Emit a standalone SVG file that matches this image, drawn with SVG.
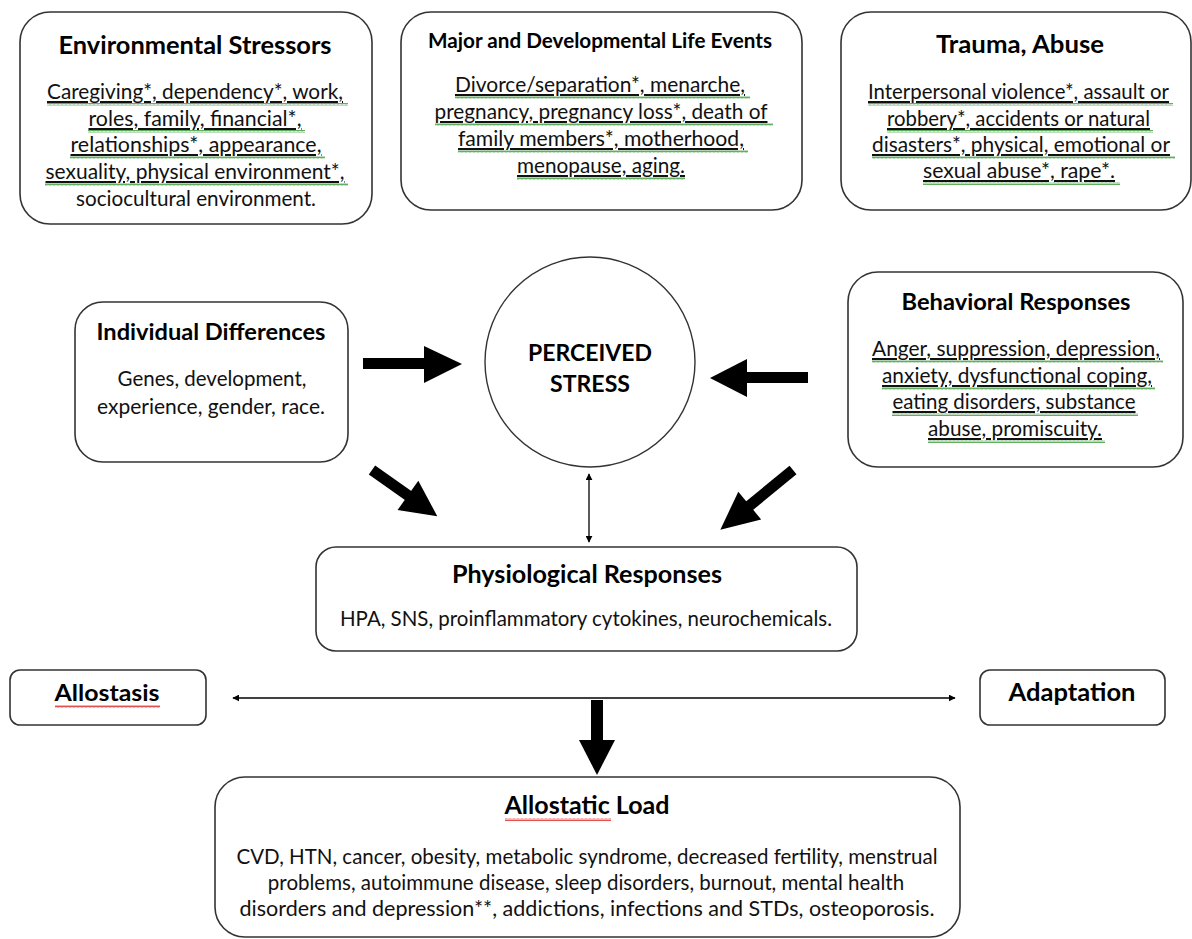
<svg xmlns="http://www.w3.org/2000/svg" width="1192" height="939" viewBox="0 0 1192 939">
<style>
.box{fill:#fff;stroke:#333;stroke-width:1.6}
.t{font-family:Lato,"Liberation Sans",sans-serif;font-weight:bold;fill:#000;text-anchor:middle}
.b{font-family:Lato,"Liberation Sans",sans-serif;font-size:20.5px;fill:#111;text-anchor:middle}
.u{text-decoration:underline}
.thin{stroke:#000;stroke-width:1.3;fill:none}
</style>
<defs>
<pattern id="sqG" width="4" height="3" patternUnits="userSpaceOnUse">
<path d="M0,2.5 L1,0.5 L2,2.5 L3,0.5 L4,2.5" fill="none" stroke="#3a9a3a" stroke-width="0.8"/>
</pattern>
<pattern id="sqR" width="4" height="3" patternUnits="userSpaceOnUse">
<path d="M0,2.5 L1,0.5 L2,2.5 L3,0.5 L4,2.5" fill="none" stroke="#d22" stroke-width="0.8"/>
</pattern>
<marker id="ah" viewBox="0 0 10 10" refX="9" refY="5" markerWidth="7" markerHeight="7" markerUnits="userSpaceOnUse" orient="auto-start-reverse">
<path d="M0,0 L10,5 L0,10 z" fill="#000"/>
</marker>
</defs>

<g id="env">
<rect class="box" x="20" y="12" width="352" height="212" rx="30"/>
<text class="t" x="195" y="54" font-size="24" textLength="273" lengthAdjust="spacingAndGlyphs">Environmental Stressors</text>
<text class="b u" x="195" y="99" textLength="296" lengthAdjust="spacingAndGlyphs">Caregiving*, dependency*, work,</text>
<text class="b u" x="195" y="126" textLength="213" lengthAdjust="spacingAndGlyphs">roles, family, financial*,</text>
<text class="b u" x="196" y="152" textLength="251" lengthAdjust="spacingAndGlyphs">relationships*, appearance,</text>
<text class="b u" x="195" y="179" textLength="299" lengthAdjust="spacingAndGlyphs">sexuality, physical environment*,</text>
<text class="b" x="196" y="206" textLength="240" lengthAdjust="spacingAndGlyphs">sociocultural environment.</text>
<rect x="47" y="103" width="301" height="3" fill="url(#sqG)"/>
<rect x="88" y="130" width="217" height="3" fill="url(#sqG)"/>
<rect x="70" y="156" width="255" height="3" fill="url(#sqG)"/>
<rect x="45" y="183" width="303" height="3" fill="url(#sqG)"/>
</g>

<g id="life">
<rect class="box" x="401" y="12" width="401" height="198" rx="30"/>
<text class="t" x="600" y="48" font-size="20" textLength="344" lengthAdjust="spacingAndGlyphs">Major and Developmental Life Events</text>
<text class="b u" x="600" y="92" textLength="290" lengthAdjust="spacingAndGlyphs">Divorce/separation*, menarche,</text>
<text class="b u" x="601" y="119" textLength="333" lengthAdjust="spacingAndGlyphs">pregnancy, pregnancy loss*, death of</text>
<text class="b u" x="601" y="146" textLength="286" lengthAdjust="spacingAndGlyphs">family members*, motherhood,</text>
<text class="b u" x="601" y="173" textLength="168" lengthAdjust="spacingAndGlyphs">menopause, aging.</text>
<rect x="455" y="96" width="295" height="3" fill="url(#sqG)"/>
<rect x="435" y="123" width="338" height="3" fill="url(#sqG)"/>
<rect x="458" y="150" width="290" height="3" fill="url(#sqG)"/>
<rect x="517" y="177" width="168" height="3" fill="url(#sqG)"/>
</g>

<g id="trauma">
<rect class="box" x="841" y="12" width="350" height="198" rx="30"/>
<text class="t" x="1020" y="53" font-size="25" textLength="168" lengthAdjust="spacingAndGlyphs">Trauma, Abuse</text>
<text class="b u" x="1018.5" y="99" textLength="301" lengthAdjust="spacingAndGlyphs">Interpersonal violence*, assault or</text>
<text class="b u" x="1018.5" y="126" textLength="263" lengthAdjust="spacingAndGlyphs">robbery*, accidents or natural</text>
<text class="b u" x="1021" y="152" textLength="298" lengthAdjust="spacingAndGlyphs">disasters*, physical, emotional or</text>
<text class="b u" x="1019" y="178" textLength="192" lengthAdjust="spacingAndGlyphs">sexual abuse*, rape*.</text>
<rect x="868" y="103" width="305" height="3" fill="url(#sqG)"/>
<rect x="887" y="130" width="266" height="3" fill="url(#sqG)"/>
<rect x="872" y="156" width="303" height="3" fill="url(#sqG)"/>
<rect x="923" y="182" width="197" height="3" fill="url(#sqG)"/>
</g>

<g id="individual">
<rect class="box" x="75" y="302" width="273" height="160" rx="28"/>
<text class="t" x="211" y="340" font-size="23" textLength="229" lengthAdjust="spacingAndGlyphs">Individual Differences</text>
<text class="b" x="212" y="386">Genes, development,</text>
<text class="b" x="211" y="414" textLength="228" lengthAdjust="spacingAndGlyphs">experience, gender, race.</text>
</g>

<g id="perceived">
<circle cx="590" cy="362" r="105" fill="#fff" stroke="#333" stroke-width="1.4"/>
<text class="t" x="590" y="361" font-size="23" textLength="124" lengthAdjust="spacingAndGlyphs">PERCEIVED</text>
<text class="t" x="590" y="392" font-size="23" textLength="80" lengthAdjust="spacingAndGlyphs">STRESS</text>
</g>

<g id="behavioral">
<rect class="box" x="848" y="272" width="335" height="195" rx="30"/>
<text class="t" x="1016" y="310" font-size="23" textLength="229" lengthAdjust="spacingAndGlyphs">Behavioral Responses</text>
<text class="b u" x="1016" y="356" textLength="288" lengthAdjust="spacingAndGlyphs">Anger, suppression, depression,</text>
<text class="b u" x="1017" y="383" textLength="270" lengthAdjust="spacingAndGlyphs">anxiety, dysfunctional coping,</text>
<text class="b u" x="1014" y="409" textLength="243" lengthAdjust="spacingAndGlyphs">eating disorders, substance</text>
<text class="b u" x="1015" y="436" textLength="174" lengthAdjust="spacingAndGlyphs">abuse, promiscuity.</text>
<rect x="872" y="360" width="291" height="3" fill="url(#sqG)"/>
<rect x="882" y="387" width="273" height="3" fill="url(#sqG)"/>
<rect x="892" y="413" width="246" height="3" fill="url(#sqG)"/>
<rect x="928" y="440" width="177" height="3" fill="url(#sqG)"/>
</g>

<g id="physiological">
<rect class="box" x="316" y="547" width="541" height="104" rx="20"/>
<text class="t" x="587" y="583" font-size="24" textLength="270" lengthAdjust="spacingAndGlyphs">Physiological Responses</text>
<text class="b" x="586" y="626" textLength="492" lengthAdjust="spacingAndGlyphs">HPA, SNS, proinflammatory cytokines, neurochemicals.</text>
</g>

<g id="allostasis">
<rect class="box" x="10" y="670" width="196" height="55" rx="10"/>
<text class="t" x="107" y="701" font-size="23" textLength="105" lengthAdjust="spacingAndGlyphs">Allostasis</text>
<rect x="55" y="705" width="105" height="3" fill="url(#sqR)"/>
</g>

<g id="adaptation">
<rect class="box" x="980" y="670" width="185" height="55" rx="10"/>
<text class="t" x="1072" y="701" font-size="24" textLength="127" lengthAdjust="spacingAndGlyphs">Adaptation</text>
</g>

<g id="load">
<rect class="box" x="215" y="777" width="745" height="160" rx="30"/>
<text class="t" x="587" y="814" font-size="24" textLength="165" lengthAdjust="spacingAndGlyphs">Allostatic Load</text>
<rect x="505" y="818" width="106" height="3" fill="url(#sqR)"/>
<text class="b" x="587" y="864" textLength="701" lengthAdjust="spacingAndGlyphs">CVD, HTN, cancer, obesity, metabolic syndrome, decreased fertility, menstrual</text>
<text class="b" x="586" y="890">problems, autoimmune disease, sleep disorders, burnout, mental health</text>
<text class="b" x="587" y="916" textLength="695" lengthAdjust="spacingAndGlyphs">disorders and depression**, addictions, infections and STDs, osteoporosis.</text>
</g>

<g id="connectors" fill="#000">
<rect x="363" y="358" width="63" height="11"/>
<polygon points="424,346 462,364 424,383"/>
<g transform="translate(372,470) rotate(35.3)">
<rect x="0" y="-5.5" width="46" height="11"/>
<polygon points="44,-18 80,0 44,18"/>
</g>
<rect x="745" y="372" width="63" height="11"/>
<polygon points="747,359 710,378 747,397"/>
<g transform="translate(793,470) rotate(140.6)">
<rect x="0" y="-5.5" width="58" height="11"/>
<polygon points="56,-18 94,0 56,18"/>
</g>
<line class="thin" x1="589" y1="474" x2="589" y2="542" marker-start="url(#ah)" marker-end="url(#ah)"/>
<line class="thin" x1="233" y1="698" x2="955" y2="698" marker-start="url(#ah)" marker-end="url(#ah)"/>
<rect x="591" y="700" width="12" height="42"/>
<polygon points="579,740 615,740 597,775"/>
</g>
</svg>
